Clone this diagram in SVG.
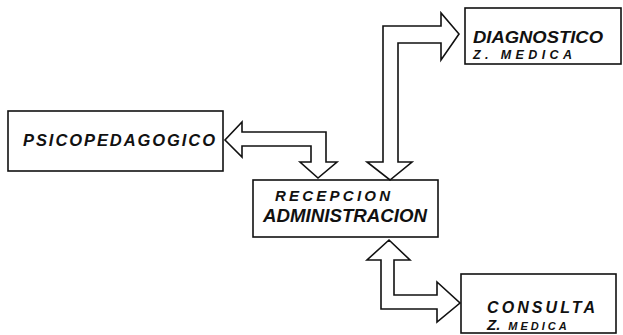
<svg xmlns="http://www.w3.org/2000/svg" width="623" height="335" viewBox="0 0 623 335">
<style>
.box{fill:none;stroke:#111;stroke-width:1.6}
.arr{fill:none;stroke:#111;stroke-width:1.6;stroke-linejoin:miter}
text{font-family:"Liberation Sans",Arial,sans-serif;font-weight:bold;font-style:italic;fill:#111}
</style>
<rect width="623" height="335" fill="#fff"/>
<g id="connectors">
<path class="arr" d="M326,162 V132 H242 V122 L225,140 L242,157 V146 H311 V162 H300 L318,178 L337,162 Z"/>
<path class="arr" d="M383,162 V26 H441 V13 L459,34 L441,60 V43 H398 V162 H412 L390,180 L367,162 Z"/>
<path class="arr" d="M389,240 L410,260 H394 V295 H437 V282 L460,303 L437,322 V309 H381 V260 H367 Z"/>
</g>
<g id="psicopedagogico">
<rect class="box" x="8" y="111" width="215" height="60"/>
<text x="23" y="146" font-size="16.5" textLength="192" lengthAdjust="spacing">PSICOPEDAGOGICO</text>
</g>
<g id="recepcion">
<rect class="box" x="253" y="180" width="185" height="57"/>
<text x="275" y="201" font-size="15" textLength="115" lengthAdjust="spacing">RECEPCION</text>
<text x="263" y="222" font-size="18" textLength="164" lengthAdjust="spacingAndGlyphs">ADMINISTRACION</text>
</g>
<g id="diagnostico">
<rect class="box" x="465" y="8" width="156" height="56"/>
<text x="473" y="43" font-size="17" textLength="130" lengthAdjust="spacingAndGlyphs">DIAGNOSTICO</text>
<text x="473" y="59" font-size="12.5" textLength="99" lengthAdjust="spacing">Z. MEDICA</text>
</g>
<g id="consulta">
<rect class="box" x="461" y="274" width="155" height="59"/>
<text x="487" y="313" font-size="16" textLength="108" lengthAdjust="spacing">CONSULTA</text>
<text x="487" y="330"><tspan font-size="15">Z.</tspan><tspan font-size="11" dx="8" letter-spacing="3">MEDICA</tspan></text>
</g>
</svg>
